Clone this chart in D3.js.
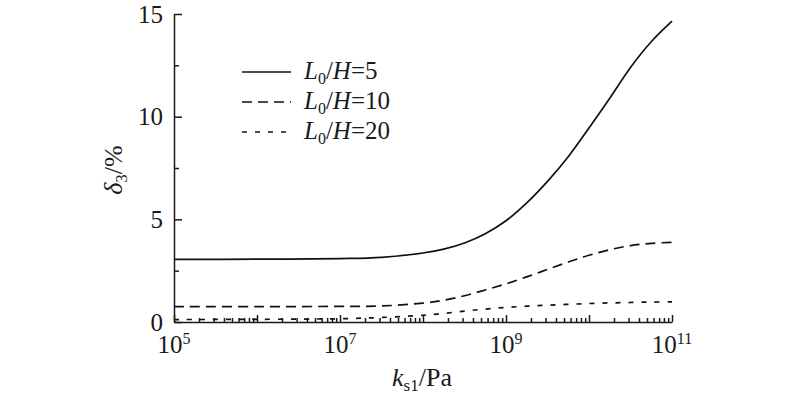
<!DOCTYPE html>
<html>
<head>
<meta charset="utf-8">
<script src="https://cdn.jsdelivr.net/npm/d3@7"></script>
<style>
  body { margin: 0; background: #fff; }
  svg text { font-family: "Liberation Serif", "Times New Roman", serif; fill: #1a1a1a; }
</style>
</head>
<body>
<svg id="chart" width="800" height="396"></svg>
<script>
// k_s1 as powers of ten
var exponents = [5, 6, 7, 7.5, 8, 8.25, 8.5, 8.75, 9, 9.25, 9.5, 9.75, 10, 10.25, 10.5, 10.75, 11];
var series5  = [3.05, 3.06, 3.09, 3.15, 3.36, 3.55, 3.85, 4.3, 4.93, 5.8, 6.85, 8.05, 9.45, 10.9, 12.4, 13.65, 14.65];
var series10 = [0.75, 0.75, 0.76, 0.78, 0.92, 1.06, 1.28, 1.56, 1.86, 2.2, 2.56, 2.92, 3.25, 3.52, 3.72, 3.83, 3.88];
var series20 = [0.12, 0.13, 0.16, 0.22, 0.33, 0.42, 0.53, 0.63, 0.71, 0.77, 0.82, 0.86, 0.9, 0.93, 0.95, 0.97, 0.98];
var legendRatios = ["5", "10", "20"];
var yTicks = [0, 5, 10, 15];
var yMinor = [2.5, 7.5, 12.5];
var xMajorExp = [5, 6, 7, 8, 9, 10, 11];
var xLabelExp = [5, 7, 9, 11];

var svg = d3.select("#chart");

var x = d3.scaleLog().domain([1e5, 1e11]).range([174, 672]);
var y = d3.scaleLinear().domain([0, 15]).range([322, 14]);

// y axis, ticks pointing inward
var yAxis = svg.append("g")
    .attr("transform", "translate(174,0)")
    .call(d3.axisLeft(y).tickValues(yTicks).tickSize(-8).tickSizeOuter(0).tickPadding(11));
yAxis.selectAll("text").style("font-size", "25px").attr("fill", "#1a1a1a");
svg.append("g")
    .attr("transform", "translate(174,0)")
    .call(d3.axisLeft(y).tickValues(yMinor).tickSize(-5).tickSizeOuter(0).tickFormat(""))
    .select(".domain").remove();

// x axis, majors + log minors inward
var minorVals = [];
for (var n = 5; n < 11; n++) for (var m = 2; m <= 9; m++) minorVals.push(m * Math.pow(10, n));

svg.append("g")
    .attr("transform", "translate(0,322)")
    .call(d3.axisBottom(x).tickValues(xMajorExp.map(function(e) { return Math.pow(10, e); }))
      .tickSize(-7).tickSizeOuter(0).tickFormat(""));
svg.append("g")
    .attr("transform", "translate(0,322)")
    .call(d3.axisBottom(x).tickValues(minorVals).tickSize(-4).tickSizeOuter(0).tickFormat(""))
    .select(".domain").remove();

svg.selectAll(".domain, .tick line").attr("stroke", "#1a1a1a").attr("stroke-width", 1.5);

// x tick labels with superscripts
var xl = svg.append("g").selectAll("text").data(xLabelExp).join("text")
    .attr("x", function(e) { return x(Math.pow(10, e)); })
    .attr("y", 353)
    .attr("text-anchor", "middle")
    .style("font-size", "25px");
xl.append("tspan").text("10");
xl.append("tspan").attr("dy", -9).style("font-size", "16px").text(function(e) { return e; });

// axis titles
var xt = svg.append("text").attr("x", 422).attr("y", 386).attr("text-anchor", "middle").style("font-size", "26px");
xt.append("tspan").style("font-style", "italic").text("k");
xt.append("tspan").attr("dy", 5).style("font-size", "17px").text("s1");
xt.append("tspan").attr("dy", -5).text("/Pa");

var yt = svg.append("text").attr("transform", "translate(122,170) rotate(-90)").attr("text-anchor", "middle").style("font-size", "26px");
yt.append("tspan").style("font-style", "italic").text("δ");
yt.append("tspan").attr("dy", 5).style("font-size", "17px").text("3");
yt.append("tspan").attr("dy", -5).text("/%");

// curves
var dashes = [null, "10,6", "5,8"];
var allSeries = [series5, series10, series20];
var line = d3.line()
    .x(function(d) { return x(Math.pow(10, d[0])); })
    .y(function(d) { return y(d[1]); })
    .curve(d3.curveCatmullRom.alpha(0.5));

allSeries.forEach(function(s, i) {
  svg.append("path")
    .datum(exponents.map(function(e, j) { return [e, s[j]]; }))
    .attr("d", line)
    .attr("fill", "none")
    .attr("stroke", "#111")
    .attr("stroke-width", 1.7)
    .attr("stroke-dasharray", dashes[i]);
});

// legend
var leg = svg.append("g").selectAll("g").data(legendRatios).join("g")
    .attr("transform", function(d, i) { return "translate(242," + (72 + i * 30) + ")"; });
leg.append("line")
    .attr("x1", 0).attr("x2", 49)
    .attr("stroke", "#111").attr("stroke-width", 1.7)
    .attr("stroke-dasharray", function(d, i) { return dashes[i]; });
var lt = leg.append("text").attr("x", 62).attr("y", 7).style("font-size", "25px");
lt.append("tspan").style("font-style", "italic").text("L");
lt.append("tspan").attr("dy", 5).style("font-size", "16px").text("0");
lt.append("tspan").attr("dy", -5).text("/");
lt.append("tspan").style("font-style", "italic").text("H");
lt.append("tspan").text(function(d) { return "=" + d; });
</script>
</body>
</html>
